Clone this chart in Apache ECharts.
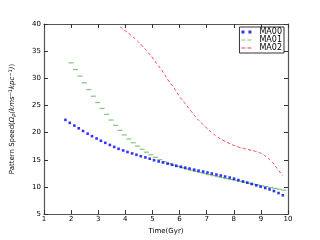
<!DOCTYPE html>
<html>
<head>
<meta charset="utf-8">
<script src="https://cdn.jsdelivr.net/npm/echarts@6/dist/echarts.min.js"></script>
<style>html,body{margin:0;padding:0;background:#fff}#c{width:320px;height:240px}</style>
</head>
<body>
<div id="c"></div>
<script>
const xTicks = [1,2,3,4,5,6,7,8,9,10];
const yTicks = [5,10,15,20,25,30,35,40];
const seriesNames = ['MA00','MA01','MA02'];

const ma00X = [1.79,1.95,2.12,2.28,2.44,2.61,2.77,2.94,3.10,3.26,3.43,3.59,3.75,3.92,4.08,4.25,4.41,4.57,4.74,4.90,5.06,5.23,5.39,5.56,5.72,5.88,6.05,6.21,6.37,6.54,6.70,6.87,7.03,7.19,7.36,7.52,7.68,7.85,8.01,8.17,8.34,8.50,8.66,8.83,8.99,9.16,9.32,9.48,9.65,9.81];
const ma00Y = [22.35,21.8,21.3,20.8,20.3,19.8,19.35,18.92,18.5,18.12,17.73,17.37,17.02,16.72,16.43,16.17,15.92,15.66,15.44,15.2,14.92,14.7,14.5,14.3,14.1,13.9,13.72,13.55,13.38,13.18,13.0,12.83,12.65,12.46,12.27,12.1,11.92,11.72,11.52,11.27,11.02,10.8,10.55,10.3,10.05,9.8,9.55,9.25,8.88,8.46];

const ma01X = [2.00,2.16,2.33,2.49,2.65,2.82,2.98,3.14,3.31,3.47,3.64,3.80,3.96,4.13,4.29,4.45,4.62,4.78,4.94,5.11,5.27,5.43,5.60,5.76,5.92,6.09,6.25,6.41,6.58,6.74,6.91,7.07,7.23,7.40,7.56,7.72,7.89,8.05,8.21,8.38,8.54,8.70,8.87,9.03,9.19,9.36,9.52,9.68,9.85];
const ma01Y = [32.85,31.62,30.4,29.17,27.93,26.7,25.55,24.45,23.37,22.32,21.34,20.42,19.58,18.83,18.14,17.52,16.95,16.4,15.92,15.45,15.02,14.65,14.3,14.02,13.76,13.52,13.3,13.08,12.86,12.66,12.46,12.27,12.08,11.9,11.72,11.54,11.36,11.19,11.02,10.85,10.69,10.53,10.37,10.21,10.05,9.9,9.74,9.58,9.4];

const ma02X = [3.8,4.0,4.2,4.4,4.6,4.8,5.0,5.2,5.4,5.6,5.8,6.0,6.2,6.4,6.6,6.8,7.0,7.2,7.4,7.6,7.8,8.0,8.2,8.4,8.6,8.8,9.0,9.2,9.4,9.6,9.8];
const ma02Y = [39.5,38.75,37.95,37.1,36.1,35.0,33.8,32.45,31.05,29.5,28.2,26.65,25.4,24.1,22.85,21.8,20.85,19.95,19.2,18.6,18.1,17.65,17.3,17.05,16.8,16.55,16.2,15.55,14.7,13.4,12.1];

const pairs = (xs, ys) => xs.map((x, i) => [x, ys[i]]);
const font = 'DejaVu Sans';
const frame = {color: '#555', width: 1.2};

const baseX = {
  type: 'value', min: xTicks[0], max: xTicks[xTicks.length-1], interval: 1,
  axisLine: {show: true, onZero: false, lineStyle: frame},
  axisTick: {show: true, inside: true, length: 4, lineStyle: {color: '#333', width: 1}},
  splitLine: {show: false}
};
const baseY = {
  type: 'value', min: yTicks[0], max: yTicks[yTicks.length-1], interval: 5,
  axisLine: {show: true, onZero: false, lineStyle: frame},
  axisTick: {show: true, inside: true, length: 4, lineStyle: {color: '#333', width: 1}},
  splitLine: {show: false}
};

const chart = echarts.init(document.getElementById('c'), null, {renderer: 'canvas'});
chart.setOption({
  animation: false,
  backgroundColor: '#fff',
  grid: {left: 40, right: 32, top: 24, bottom: 24},
  legend: {
    right: 36, top: 27, orient: 'vertical', itemGap: 0,
    padding: [1, 2, 1, 2],
    borderColor: '#333', borderWidth: 1, backgroundColor: '#fff',
    itemWidth: 10, itemHeight: 3,
    textStyle: {fontFamily: font, fontSize: 8, color: '#000', lineHeight: 7.5, padding: [0, 0, 0, 3]},
    data: [
      {name: seriesNames[0], icon: 'path://M0,0h3v3h-3z M7,0h3v3h-3z', itemStyle: {color: '#0000ff'}},
      {name: seriesNames[1], icon: 'path://M0,1h4v1h-4z M6,1h4v1h-4z M0,0h0.01v0.01h-0.01z M0,3h0.01v0.01h-0.01z', itemStyle: {color: '#66b366'}},
      {name: seriesNames[2], icon: 'path://M0,1h4v1h-4z M6,1h4v1h-4z M0,0h0.01v0.01h-0.01z M0,3h0.01v0.01h-0.01z', itemStyle: {color: '#ff4040'}}
    ]
  },
  xAxis: [
    Object.assign({}, baseX, {
      position: 'bottom',
      name: 'Time(Gyr)', nameLocation: 'middle', nameGap: 10,
      nameTextStyle: {fontFamily: font, fontSize: 7, color: '#000'},
      axisLabel: {fontFamily: font, fontSize: 7, color: '#000', margin: 2}
    }),
    Object.assign({}, baseX, {position: 'top', axisLabel: {show: false}})
  ],
  yAxis: [
    Object.assign({}, baseY, {
      position: 'left',
      name: 'Pattern Speed({i|Ω}{sub|p}{i|(kms}{sup|−1}{i|kpc}{sup|−1}{i|)})',
      nameLocation: 'middle', nameGap: 27, nameRotate: 90,
      nameTextStyle: {
        fontFamily: font, fontSize: 7, color: '#000',
        rich: {
          i: {fontFamily: font, fontSize: 7, fontStyle: 'italic', color: '#000'},
          sub: {fontFamily: font, fontSize: 5, fontStyle: 'italic', color: '#000', padding: [3, 0, 0, 0]},
          sup: {fontFamily: font, fontSize: 5, color: '#000', padding: [0, 0, 4, 0]}
        }
      },
      axisLabel: {fontFamily: font, fontSize: 7, color: '#000', margin: 3}
    }),
    Object.assign({}, baseY, {position: 'right', axisLabel: {show: false}})
  ],
  series: [
    {
      name: seriesNames[0], type: 'scatter', data: pairs(ma00X, ma00Y),
      symbol: 'rect', symbolSize: 2.6, itemStyle: {color: '#0000ff'}, z: 3
    },
    {
      name: seriesNames[1], type: 'scatter', data: pairs(ma01X, ma01Y),
      symbol: 'rect', symbolSize: [5, 1.2], itemStyle: {color: '#66b366'}, z: 2
    },
    {
      name: seriesNames[2], type: 'line', data: pairs(ma02X, ma02Y),
      showSymbol: false, smooth: true,
      lineStyle: {color: '#ff4040', width: 1, type: [3, 2.5]}, itemStyle: {color: '#ff4040'}, z: 2
    }
  ]
});
</script>
</body>
</html>
